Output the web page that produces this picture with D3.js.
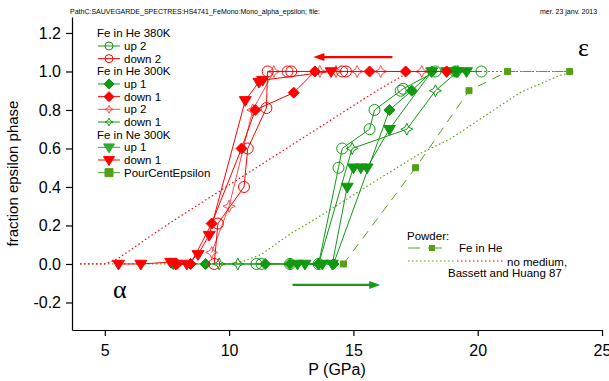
<!DOCTYPE html>
<html>
<head>
<meta charset="utf-8">
<script src="https://cdn.jsdelivr.net/npm/d3@7"></script>
<style>
  body { margin: 0; background: #fff; }
  svg { display: block; font-family: "Liberation Sans", Arial, sans-serif; }
</style>
</head>
<body>
<div id="chart"></div>
<script>
// each point is [P (GPa), fraction epsilon phase]
const he380Up2 = [[11.1, 0], [11.3, 0], [12.45, 0], [13.6, 0], [14.4, 0.5], [14.55, 0.6], [15.65, 0.7], [15.85, 0.8], [16.9, 0.9], [17.0, 0.91], [18.3, 1.0], [19.1, 1.0], [20.15, 1.0]];
const he380Down2 = [[14.7, 1.0], [14.55, 1.0], [12.5, 1.0], [12.35, 1.0], [11.55, 1.0], [11.5, 0.81], [10.75, 0.6], [10.6, 0.4], [9.55, 0.21], [9.4, 0]];
const he300Up1 = [[7.75, 0], [9.05, 0], [11.45, 0], [12.45, 0], [13.6, 0], [14.2, 0], [16.45, 0.8], [17.35, 0.9], [18.15, 1.0], [19.1, 1.0]];
const he300Down1 = [[18.75, 1.0], [17.1, 1.0], [15.65, 1.0], [13.45, 1.0], [12.6, 0.89], [11.05, 0.8], [10.5, 0.6], [9.3, 0.21], [8.45, 0], [7.9, 0]];
const he300Up2 = [[9.3, 0.06], [10.0, 0.3], [10.95, 0.8], [11.8, 1.0], [13.65, 1.0], [14.3, 1.0], [15.15, 1.0], [16.1, 1.0], [17.75, 1.0]];
const he300Down1b = [[19.2, 1.0], [18.3, 0.9], [17.15, 0.7], [14.95, 0.6], [13.6, 0], [10.35, 0], [9.6, 0]];
const neUp1 = [[12.75, 0], [13.05, 0], [13.75, 0], [14.15, 0], [14.75, 0.4], [15.0, 0.5], [15.3, 0.5], [15.55, 0.5], [16.45, 0.7], [18.15, 1.0], [18.75, 1.0], [19.15, 1.0], [19.55, 1.0]];
const neDown1 = [[14.1, 1.0], [11.35, 0.955], [11.2, 0.945], [10.65, 0.85], [9.2, 0.15], [8.75, 0.05], [8.3, 0], [7.85, 0], [7.65, 0.01], [6.45, 0], [5.55, 0]];
const pourCentEpsilon = [[14.6, 0], [17.5, 0.5], [19.65, 0.9], [21.2, 1.0], [23.7, 1.0]];
const bassettRed = [[4.0, 0], [5.0, 0], [5.5, 0.025], [6.0, 0.07], [7.0, 0.16], [8.0, 0.245], [10.0, 0.41], [12.0, 0.575], [14.0, 0.74], [16.0, 0.905], [17.0, 0.98], [17.4, 1.0], [23.7, 1.0]];
const bassettGreen = [[4.0, 0], [10.0, 0], [10.6, 0.015], [11.3, 0.05], [12.5, 0.16], [13.3, 0.22], [16.0, 0.44], [17.7, 0.575], [18.9, 0.65], [21.7, 0.89], [23.3, 0.98], [23.9, 1.0]];

const xTicks = [5, 10, 15, 20, 25];
const yTicks = [-0.2, 0, 0.2, 0.4, 0.6, 0.8, 1.0, 1.2];

const GREEN = "#119911";
const RED = "#ff0000";
const LIGHTRED = "#ff4a4a";
const OLIVE = "#55a016";

// marker shapes, "size" is used as a radius
const symCircle = { draw(ctx, r) { ctx.moveTo(r, 0); ctx.arc(0, 0, r, 0, 2 * Math.PI); } };
const symDiamond = { draw(ctx, r) { ctx.moveTo(0, -r); ctx.lineTo(r, 0); ctx.lineTo(0, r); ctx.lineTo(-r, 0); ctx.closePath(); } };
const symTriDown = { draw(ctx, r) { ctx.moveTo(-r, -r * 0.62); ctx.lineTo(r, -r * 0.62); ctx.lineTo(0, r); ctx.closePath(); } };
const symSquare = { draw(ctx, r) { ctx.rect(-r, -r, 2 * r, 2 * r); } };
const symStar = { draw(ctx, r) {
    const k = r * 0.32;
    ctx.moveTo(0, -r); ctx.lineTo(k, -k); ctx.lineTo(r, 0); ctx.lineTo(k, k);
    ctx.lineTo(0, r); ctx.lineTo(-k, k); ctx.lineTo(-r, 0); ctx.lineTo(-k, -k); ctx.closePath();
} };

const series = [
    { data: bassettGreen, color: OLIVE, dash: "1.5,2.5", width: 1.2 },
    { data: bassettRed, color: RED, dash: "1.5,2.5", width: 1.2 },
    { data: pourCentEpsilon, color: OLIVE, dash: "9,7", sym: symSquare, r: 3, fill: true },
    { data: he300Down1b, color: GREEN, sym: symStar, r: 6, fill: false },
    { data: he300Up1, color: GREEN, sym: symDiamond, r: 5.5, fill: true },
    { data: neUp1, color: GREEN, sym: symTriDown, r: 6, fill: true },
    { data: he380Up2, color: GREEN, sym: symCircle, r: 5.5, fill: false },
    { data: he300Up2, color: LIGHTRED, sym: symStar, r: 6, fill: false },
    { data: he300Down1, color: RED, sym: symDiamond, r: 5.5, fill: true },
    { data: neDown1, color: RED, sym: symTriDown, r: 6, fill: true },
    { data: he380Down2, color: RED, sym: symCircle, r: 5.5, fill: false }
];

const legendRows = [
    { label: "Fe in He 380K" },
    { label: "up 2", color: GREEN, sym: symCircle, r: 4, fill: false },
    { label: "down 2", color: RED, sym: symCircle, r: 4, fill: false },
    { label: "Fe in He 300K" },
    { label: "up 1", color: GREEN, sym: symDiamond, r: 5, fill: true },
    { label: "down 1", color: RED, sym: symDiamond, r: 5, fill: true },
    { label: "up 2", color: LIGHTRED, sym: symStar, r: 4, fill: false },
    { label: "down 1", color: GREEN, sym: symStar, r: 4, fill: false },
    { label: "Fe in Ne 300K" },
    { label: "up 1", color: "#33aa33", sym: symTriDown, r: 5.5, fill: true },
    { label: "down 1", color: RED, sym: symTriDown, r: 5.5, fill: true },
    { label: "PourCentEpsilon", color: OLIVE, sym: symSquare, r: 4, fill: true }
];

const width = 609, height = 381;
const margin = { top: 17, right: 7, bottom: 51, left: 72 };

const x = d3.scaleLinear([3.68, 25], [margin.left, width - margin.right]);
const y = d3.scaleLinear([-0.343, 1.283], [height - margin.bottom, margin.top]);

const svg = d3.select("#chart")
    .append("svg")
    .attr("width", width)
    .attr("height", height)
    .attr("viewBox", [0, 0, width, height]);

// header line
svg.append("text").attr("x", 70).attr("y", 14).attr("font-size", 7)
    .text("PathC:SAUVEGARDE_SPECTRES:HS4741_FeMono:Mono_alpha_epsilon; file:");
svg.append("text").attr("x", 540).attr("y", 14).attr("font-size", 7)
    .text("mer. 23 janv. 2013");

// axes
const xAxis = svg.append("g")
    .attr("transform", `translate(0,${height - margin.bottom})`)
    .call(d3.axisBottom(x).tickValues(xTicks).tickSize(6).tickPadding(9).tickSizeOuter(0));
const yAxis = svg.append("g")
    .attr("transform", `translate(${margin.left},0)`)
    .call(d3.axisLeft(y).tickValues(yTicks).tickFormat(d => d.toFixed(1)).tickSize(6).tickPadding(5).tickSizeOuter(0));
[xAxis, yAxis].forEach(g => {
    g.attr("font-family", null).attr("font-size", null);
    g.selectAll("text").style("font-size", "16px").attr("fill", "#000");
    g.selectAll("path, line").attr("stroke", "#000").attr("stroke-width", 1.2);
});

svg.append("text")
    .attr("x", (margin.left + width - margin.right) / 2)
    .attr("y", 375)
    .attr("text-anchor", "middle")
    .attr("font-size", 16)
    .text("P (GPa)");
svg.append("text")
    .attr("transform", `translate(18,${(margin.top + height - margin.bottom) / 2}) rotate(-90)`)
    .attr("text-anchor", "middle")
    .attr("font-size", 15)
    .text("fraction epsilon phase");

// data
const line = d3.line().x(d => x(d[0])).y(d => y(d[1]));

series.forEach(s => {
    svg.append("path")
        .attr("d", line(s.data))
        .attr("fill", "none")
        .attr("stroke", s.color)
        .attr("stroke-width", s.width ?? 1)
        .attr("stroke-dasharray", s.dash ?? null);

    if (s.sym) {
        svg.append("g")
            .selectAll("path")
            .data(s.data)
            .join("path")
            .attr("transform", d => `translate(${x(d[0])},${y(d[1])})`)
            .attr("d", d3.symbol(s.sym, s.r))
            .attr("fill", s.fill ? s.color : "none")
            .attr("stroke", s.color)
            .attr("stroke-width", 1);
    }
});

// arrows (pressure direction)
const arrow = (x0, x1, yv, color) => {
    const py = y(yv), px0 = x(x0), px1 = x(x1);
    const dir = Math.sign(px1 - px0);
    svg.append("line")
        .attr("x1", px0).attr("x2", px1 - dir * 8)
        .attr("y1", py).attr("y2", py)
        .attr("stroke", color).attr("stroke-width", 2.2);
    svg.append("path")
        .attr("d", `M${px1},${py}L${px1 - dir * 11},${py - 4}L${px1 - dir * 11},${py + 4}Z`)
        .attr("fill", color);
};
arrow(16.57, 13.39, 1.075, RED);
arrow(12.55, 16.08, -0.109, "#1a9a1a");

// phase labels
svg.append("text").attr("x", x(5.6)).attr("y", y(-0.135)).attr("dy", "0.3em")
    .attr("text-anchor", "middle").attr("font-family", "Liberation Serif").attr("font-size", 26)
    .text("α");
svg.append("text").attr("x", x(24.25)).attr("y", y(1.12)).attr("dy", "0.3em")
    .attr("text-anchor", "middle").attr("font-family", "Liberation Serif").attr("font-size", 26)
    .text("ε");

// top-left legend
const legend = svg.append("g").attr("font-size", 11.5);
legendRows.forEach((row, i) => {
    const ly = 33.3 + i * 12.67;
    if (!row.sym) {
        legend.append("text").attr("x", 97).attr("y", ly).attr("dy", "0.35em").text(row.label);
        return;
    }
    legend.append("line").attr("x1", 98).attr("x2", 120).attr("y1", ly).attr("y2", ly)
        .attr("stroke", row.color).attr("stroke-width", 1);
    legend.append("path").attr("transform", `translate(109,${ly})`)
        .attr("d", d3.symbol(row.sym, row.r))
        .attr("fill", row.fill ? row.color : "none").attr("stroke", row.color);
    legend.append("text").attr("x", 124).attr("y", ly).attr("dy", "0.35em").text(row.label);
});

// powder legend
const pl = svg.append("g").attr("font-size", 11.5);
pl.append("text").attr("x", 407).attr("y", 236).attr("dy", "0.35em").text("Powder:");
pl.append("line").attr("x1", 408).attr("x2", 420).attr("y1", 248).attr("y2", 248).attr("stroke", OLIVE);
pl.append("line").attr("x1", 428).attr("x2", 442).attr("y1", 248).attr("y2", 248).attr("stroke", OLIVE);
pl.append("path").attr("transform", "translate(432,248)").attr("d", d3.symbol(symSquare, 3)).attr("fill", OLIVE);
pl.append("text").attr("x", 459).attr("y", 248).attr("dy", "0.35em").text("Fe in He");
pl.append("line").attr("x1", 408).attr("x2", 455).attr("y1", 261).attr("y2", 261)
    .attr("stroke", OLIVE).attr("stroke-dasharray", "1.5,2.5").attr("stroke-width", 1.2);
pl.append("line").attr("x1", 457).attr("x2", 503).attr("y1", 261).attr("y2", 261)
    .attr("stroke", RED).attr("stroke-dasharray", "1.5,2.5").attr("stroke-width", 1.2);
pl.append("text").attr("x", 507).attr("y", 262).attr("dy", "0.35em").text("no medium,");
pl.append("text").attr("x", 448).attr("y", 273).attr("dy", "0.35em").text("Bassett and Huang 87");
</script>
</body>
</html>
